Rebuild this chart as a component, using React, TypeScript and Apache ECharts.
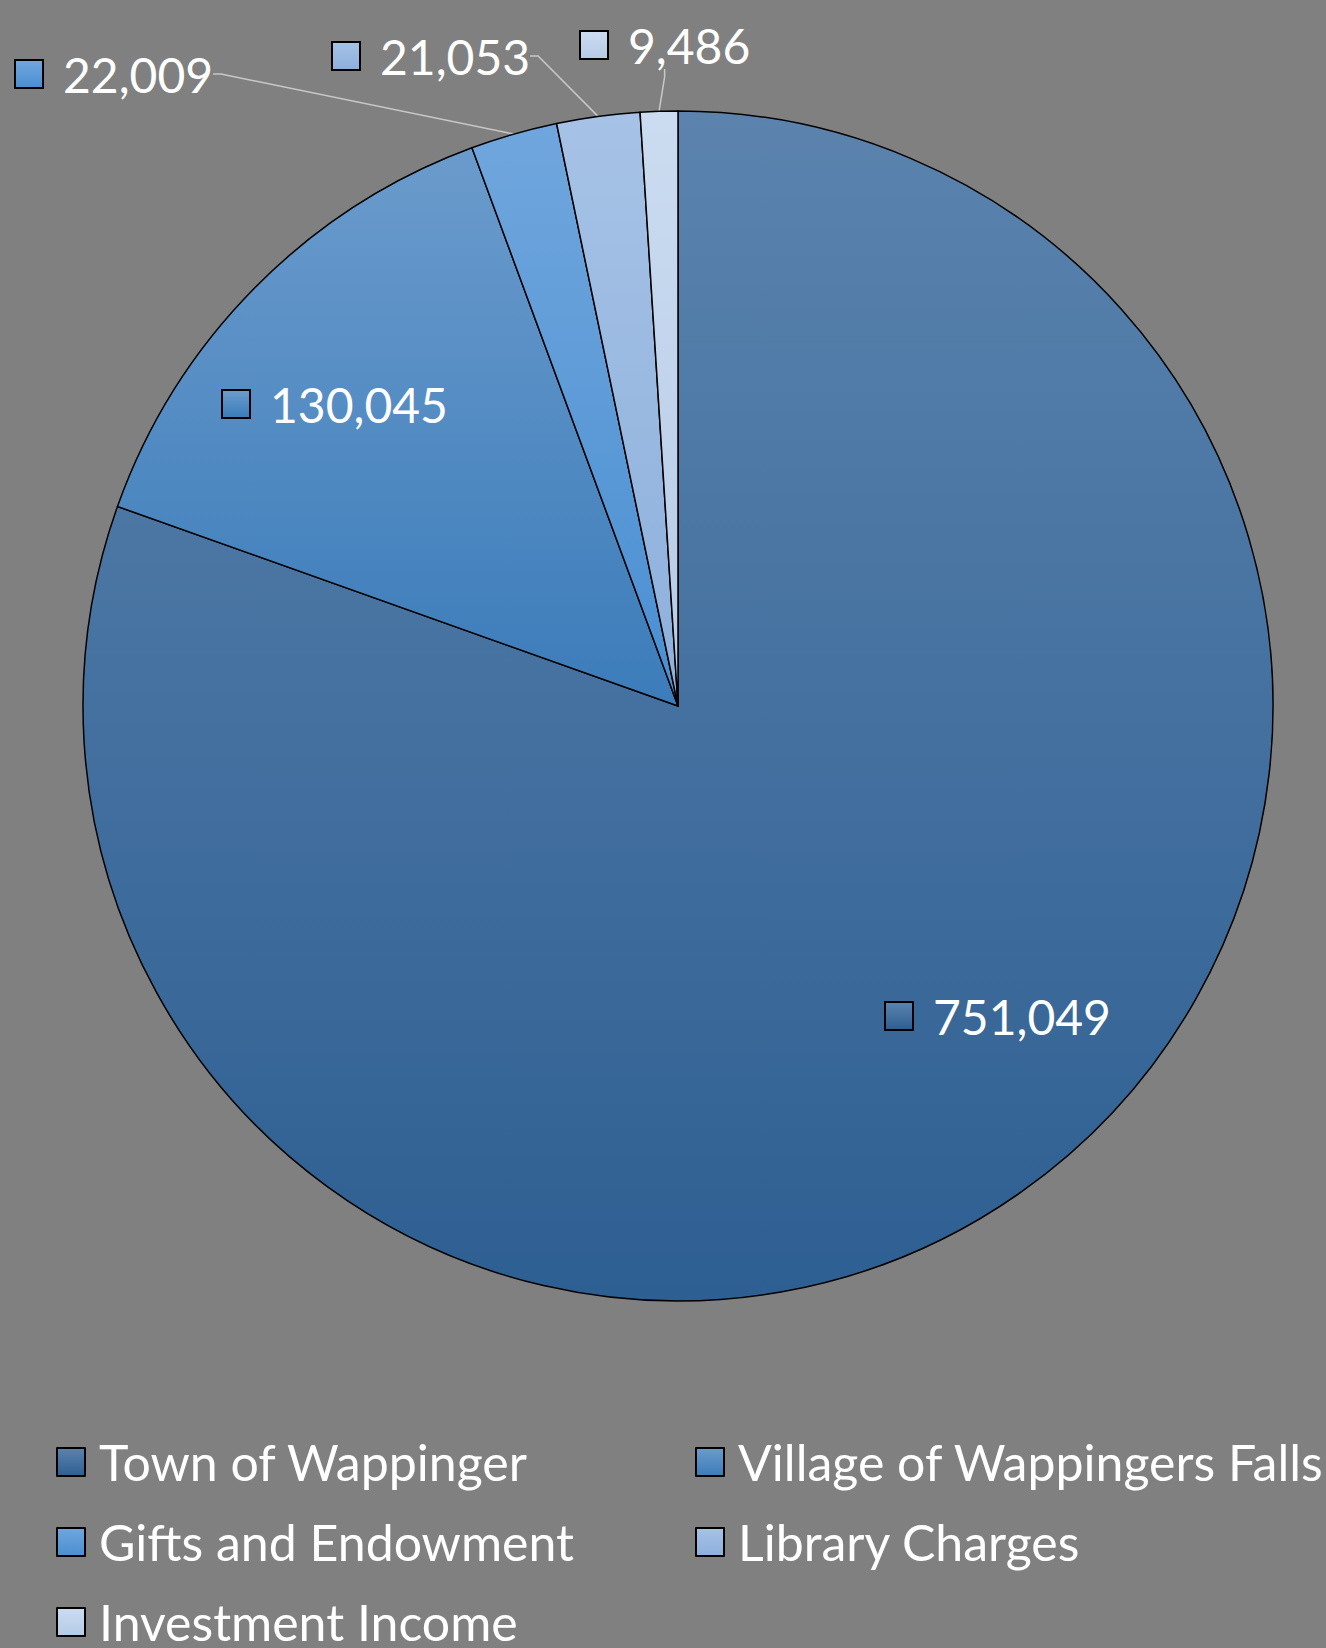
import React, { useEffect, useRef } from "react";
import * as echarts from "echarts";

const categories = [
  "Town of Wappinger",
  "Village of Wappingers Falls",
  "Gifts and Endowment",
  "Library Charges",
  "Investment Income",
];
const values = [751049, 130045, 22009, 21053, 9486];
const topColors = ["#5b83ae", "#6b9bcc", "#70a6dd", "#a6c2e6", "#cbdcf0"];
const bottomColors = ["#2e5f92", "#3b7cba", "#4a8fd2", "#8db0dc", "#b6cbe7"];
const insideLabel = [true, true, false, false, false];
const labelAnchors = [
  [886, 1016],
  [223, 404],
  [16, 74],
  [333, 56],
  [581, 45],
];

const FONT = "Lato";

function grad(i: number) {
  return new echarts.graphic.LinearGradient(0, 0, 0, 1, [
    { offset: 0, color: topColors[i] },
    { offset: 1, color: bottomColors[i] },
  ]);
}

function fmt(v: number) {
  return v.toLocaleString("en-US");
}

const legendBase = {
  orient: "vertical",
  top: 1436,
  padding: 0,
  icon: "rect",
  itemWidth: 28,
  itemHeight: 28,
  itemGap: 28,
  selectedMode: false,
  itemStyle: { borderColor: "#000", borderWidth: 2 },
  textStyle: {
    color: "#ffffff",
    fontSize: 50,
    fontFamily: FONT,
    lineHeight: 52,
    padding: [0, 0, 0, 9],
  },
};

export default function App() {
  const ref = useRef<HTMLDivElement>(null);
  useEffect(() => {
    if (!ref.current) return;
    const chart = echarts.init(ref.current, undefined, { renderer: "svg" });
    const data = categories.map((name, i) => ({
      name,
      value: values[i],
      itemStyle: { color: grad(i) },
      label: {
        position: insideLabel[i] ? "inside" : "outside",
        formatter: "{sq| }{v|" + fmt(values[i]) + "}",
        rich: {
          sq: {
            width: 26,
            height: 26,
            backgroundColor: grad(i),
            borderColor: "#000",
            borderWidth: 2,
            verticalAlign: "middle",
          },
          v: {
            fontSize: 48,
            fontFamily: FONT,
            color: "#ffffff",
            padding: [0, 0, 0, 21],
            lineHeight: 56,
            verticalAlign: "middle",
          },
        },
      },
      labelLine: { show: !insideLabel[i] },
    }));
    chart.setOption({
      animation: false,
      backgroundColor: "#808080",
      legend: [
        {
          ...legendBase,
          left: 56,
          data: [categories[0], categories[2], categories[4]],
        },
        {
          ...legendBase,
          left: 695,
          data: [categories[1], categories[3]],
        },
      ],
      series: [
        {
          type: "pie",
          center: [678, 706],
          radius: [0, 595],
          startAngle: 90,
          clockwise: true,
          avoidLabelOverlap: false,
          itemStyle: { borderColor: "#000000", borderWidth: 1.5 },
          label: { show: true },
          labelLine: {
            length: 8,
            length2: 8,
            lineStyle: { color: "#c8c8c8", width: 1.5 },
          },
          labelLayout: (params: any) => {
            const p = labelAnchors[params.dataIndex];
            return { x: p[0], y: p[1], align: "left", verticalAlign: "middle" };
          },
          emphasis: { disabled: true },
          data,
        },
      ],
    });
    return () => chart.dispose();
  }, []);
  return (
    <div
      ref={ref}
      style={{ position: "absolute", left: 0, top: 0, width: 1326, height: 1648 }}
    />
  );
}
